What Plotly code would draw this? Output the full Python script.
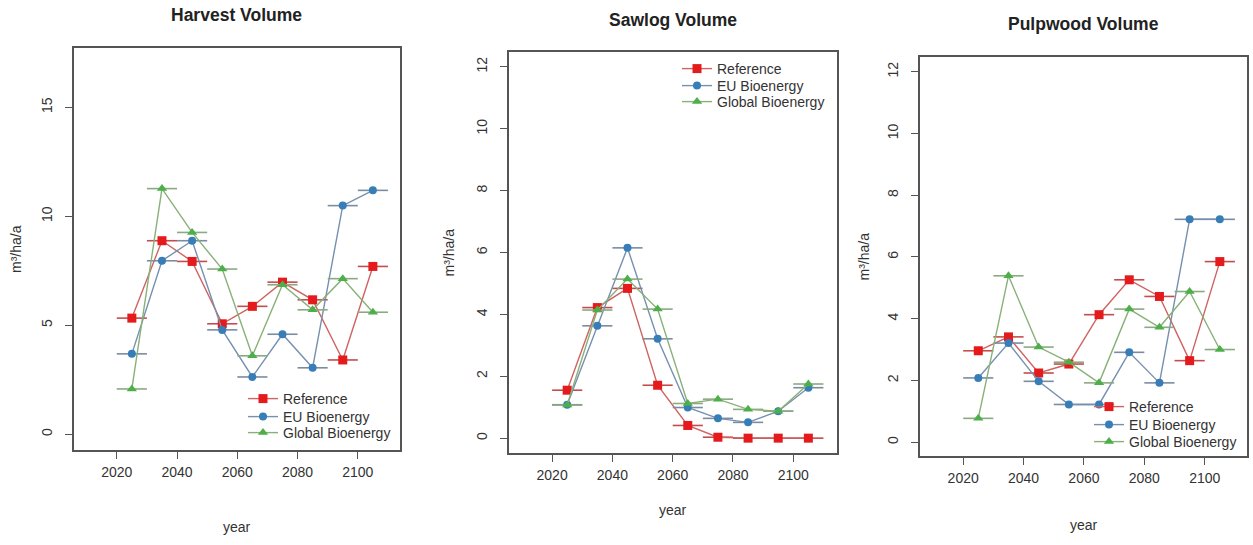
import plotly.graph_objects as go

W, H = 1253, 545

years = [2025, 2035, 2045, 2055, 2065, 2075, 2085, 2095, 2105]
series_names = ["Reference", "EU Bioenergy", "Global Bioenergy"]

harvest_ref = [5.33, 8.88, 7.93, 5.07, 5.87, 6.98, 6.17, 3.41, 7.70]
harvest_eu = [3.69, 7.96, 8.88, 4.79, 2.63, 4.59, 3.05, 10.49, 11.19]
harvest_glob = [2.08, 11.27, 9.26, 7.58, 3.60, 6.86, 5.71, 7.14, 5.60]

sawlog_ref = [1.55, 4.22, 4.84, 1.71, 0.41, 0.03, 0.0, 0.0, 0.0]
sawlog_eu = [1.08, 3.63, 6.15, 3.21, 0.99, 0.64, 0.51, 0.87, 1.63]
sawlog_glob = [1.07, 4.14, 5.14, 4.17, 1.12, 1.26, 0.93, 0.87, 1.75]

pulp_ref = [2.96, 3.41, 2.24, 2.53, 4.13, 5.26, 4.72, 2.64, 5.85]
pulp_eu = [2.08, 3.21, 1.97, 1.22, 1.22, 2.91, 1.92, 7.22, 7.22]
pulp_glob = [0.77, 5.39, 3.08, 2.59, 1.92, 4.31, 3.72, 4.88, 3.00]

panel_titles = ["Harvest Volume", "Sawlog Volume", "Pulpwood Volume"]
y_label = "m³/ha/a"
x_label = "year"
x_ticks = [2020, 2040, 2060, 2080, 2100]
y_ticks_harvest = [0, 5, 10, 15]
y_ticks_other = [0, 2, 4, 6, 8, 10, 12]

panels = [
    [harvest_ref, harvest_eu, harvest_glob],
    [sawlog_ref, sawlog_eu, sawlog_glob],
    [pulp_ref, pulp_eu, pulp_glob],
]

marker_colors = ["#E41A1C", "#377EB8", "#4DAF4A"]
line_colors = ["#CF6361", "#7690B0", "#88B178"]
seg_colors = ["#C44C4C", "#7A8CA2", "#8AAA80"]
symbols = ["square", "circle", "triangle-up"]
msizes = [9, 8, 9]

FONT = "Liberation Sans, Arial, sans-serif"
TXT = "#333333"
AX = "#555555"


def px(x):
    return x / W


def py(y):
    return (H - y) / H


# pixel geometry of the three plot boxes: (left, right, top, bottom)
boxes = [(74, 400, 48, 450), (509, 837, 52, 453), (920, 1247, 57, 456)]
y_ranges = [[-0.72, 17.72], [-0.48, 12.48], [-0.45, 12.48]]
x_ranges = [[2005.8, 2114.0], [2005.7, 2114.5], [2005.7, 2114.0]]
legend_text_x = [283, 717, 1129]
legend_rows = [(399, 417, 433), (69, 86, 102), (407, 425, 442)]
title_y = [15, 20, 24]
xlab_y = [527, 510, 525]
ylab_x = [16, 448, 863]

fig = go.Figure()
layout = dict(
    width=W, height=H, autosize=False, showlegend=True,
    margin=dict(l=0, r=0, t=0, b=0),
    paper_bgcolor="white", plot_bgcolor="white",
    font=dict(family=FONT, size=14, color=TXT),
    annotations=[],
)

for p in range(3):
    ax = "" if p == 0 else str(p + 1)
    for s in range(3):
        k = p * 3 + s
        leg = "legend" if k == 0 else f"legend{k + 1}"
        fig.add_trace(go.Scatter(
            x=years, y=panels[p][s], name=series_names[s],
            mode="lines+markers", showlegend=True,
            xaxis="x" + ax, yaxis="y" + ax, legend=leg,
            line=dict(color=line_colors[s], width=1.4),
            marker=dict(color=marker_colors[s], symbol=symbols[s], size=msizes[s],
                        line=dict(width=0)),
            error_x=dict(type="constant", value=5, width=0, thickness=1.6,
                         color=seg_colors[s]),
        ))
        layout[leg] = dict(
            x=px(legend_text_x[p] - 40), y=py(legend_rows[p][s]),
            xanchor="left", yanchor="middle",
            bgcolor="rgba(0,0,0,0)", font=dict(size=14, color=TXT),
            tracegroupgap=0, itemwidth=30, visible=True,
        )

for p in range(3):
    l, r, t, b = boxes[p]
    ax = "" if p == 0 else str(p + 1)
    layout["xaxis" + ax] = dict(
        domain=[px(l), px(r)], range=x_ranges[p], anchor="y" + ax,
        tickvals=x_ticks, ticks="outside", ticklen=7, tickwidth=1.2, tickcolor=AX,
        showline=True, linecolor=AX, linewidth=1.6, mirror=True,
        showgrid=False, zeroline=False, ticklabelstandoff=1,
        tickfont=dict(size=14, color=TXT),
    )
    layout["yaxis" + ax] = dict(
        domain=[py(b), py(t)], range=y_ranges[p], anchor="x" + ax,
        tickvals=y_ticks_harvest if p == 0 else y_ticks_other,
        ticks="outside", ticklen=7, tickwidth=1.2, tickcolor=AX,
        showline=True, linecolor=AX, linewidth=1.6, mirror=True,
        showgrid=False, zeroline=False, tickangle=-90, ticklabelstandoff=8,
        tickfont=dict(size=14, color=TXT),
    )
    cx = (l + r) / 2
    layout["annotations"].append(dict(
        text="<b>" + panel_titles[p] + "</b>", x=px(cx), y=py(title_y[p]),
        xref="paper", yref="paper", showarrow=False, xanchor="center", yanchor="middle",
        font=dict(size=17.5, color="#222222"),
    ))
    layout["annotations"].append(dict(
        text=x_label, x=px(cx), y=py(xlab_y[p]),
        xref="paper", yref="paper", showarrow=False, xanchor="center", yanchor="middle",
        font=dict(size=14, color=TXT),
    ))
    layout["annotations"].append(dict(
        text=y_label, x=px(ylab_x[p]), y=py((t + b) / 2), textangle=-90,
        xref="paper", yref="paper", showarrow=False, xanchor="center", yanchor="middle",
        font=dict(size=14, color=TXT),
    ))

fig.update_layout(**layout)
# remove the browser's default 8px page margin so the figure fills the window
fig.write_html("out.html", config={"displayModeBar": False},
               post_script="document.body.style.margin='0';")
